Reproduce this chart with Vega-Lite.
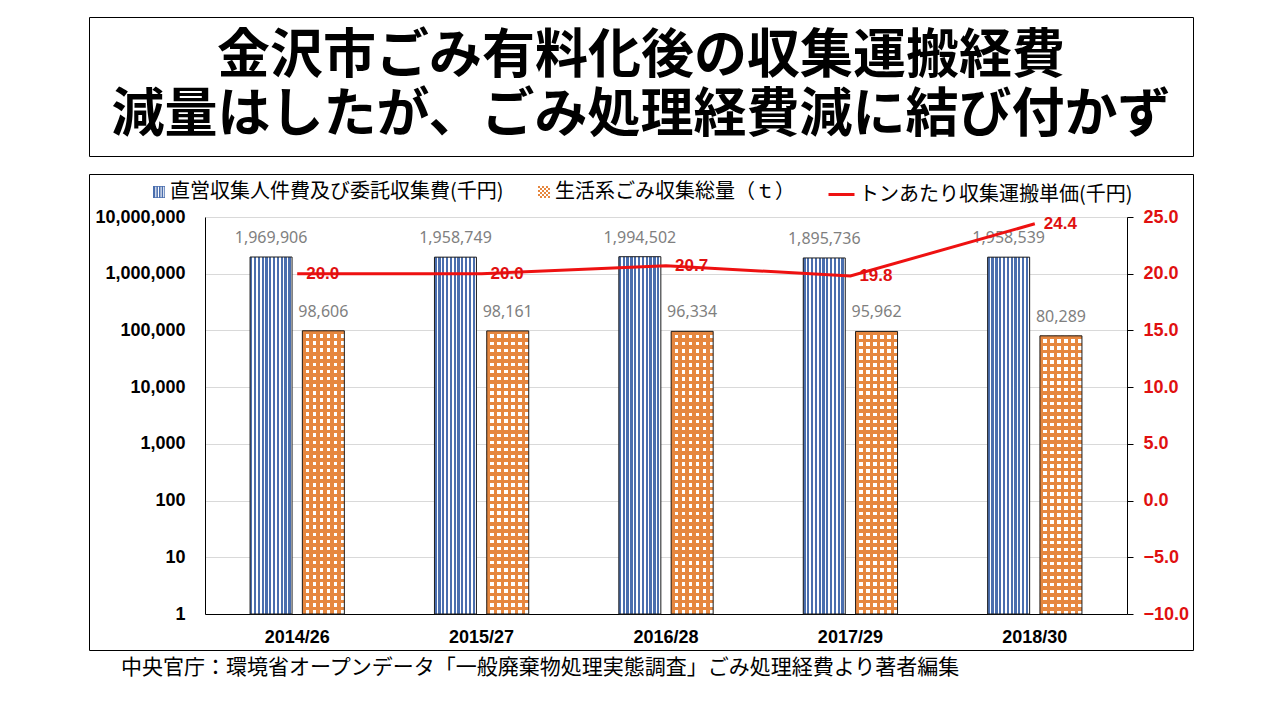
{
  "$schema": "https://vega.github.io/schema/vega-lite/v6.json",
  "background": "white",
  "padding": {"left": 88, "top": 16, "right": 0, "bottom": 0},
  "autosize": {"type": "pad"},
  "datasets": {
    "heading": [
      {"line": 1, "text": "金沢市ごみ有料化後の収集運搬経費"},
      {"line": 2, "text": "減量はしたが、ごみ処理経費減に結び付かず"}
    ],
    "costs": [
      {"year": "2014/26", "series": "直営収集人件費及び委託収集費(千円)", "value": 1969906},
      {"year": "2015/27", "series": "直営収集人件費及び委託収集費(千円)", "value": 1958749},
      {"year": "2016/28", "series": "直営収集人件費及び委託収集費(千円)", "value": 1994502},
      {"year": "2017/29", "series": "直営収集人件費及び委託収集費(千円)", "value": 1895736},
      {"year": "2018/30", "series": "直営収集人件費及び委託収集費(千円)", "value": 1958539},
      {"year": "2014/26", "series": "生活系ごみ収集総量（ｔ）", "value": 98606},
      {"year": "2015/27", "series": "生活系ごみ収集総量（ｔ）", "value": 98161},
      {"year": "2016/28", "series": "生活系ごみ収集総量（ｔ）", "value": 96334},
      {"year": "2017/29", "series": "生活系ごみ収集総量（ｔ）", "value": 95962},
      {"year": "2018/30", "series": "生活系ごみ収集総量（ｔ）", "value": 80289},
      {"year": "2014/26", "series": "トンあたり収集運搬単価(千円)", "value": 20.0},
      {"year": "2015/27", "series": "トンあたり収集運搬単価(千円)", "value": 20.0},
      {"year": "2016/28", "series": "トンあたり収集運搬単価(千円)", "value": 20.7},
      {"year": "2017/29", "series": "トンあたり収集運搬単価(千円)", "value": 19.8},
      {"year": "2018/30", "series": "トンあたり収集運搬単価(千円)", "value": 24.4}
    ]
  },
  "spacing": 16,
  "vconcat": [
    {
      "width": 1104,
      "height": 139,
      "data": {"name": "heading"},
      "mark": {"type": "text", "font": "Noto Sans CJK JP", "fontSize": 53, "fontWeight": "bold", "color": "#000", "baseline": "middle"},
      "encoding": {
        "y": {"field": "line", "type": "ordinal", "axis": null, "scale": {"type": "point", "padding": 0.69}},
        "text": {"field": "text"}
      }
    },
    {
      "width": 1104,
      "height": 476,
      "data": {"name": "costs"},
      "title": {
        "text": "中央官庁：環境省オープンデータ「一般廃棄物処理実態調査」ごみ処理経費より著者編集",
        "orient": "bottom", "anchor": "start", "frame": "group",
        "offset": 7, "dx": 32,
        "font": "Noto Sans CJK JP", "fontSize": 21, "fontWeight": "normal", "color": "#000"
      },
      "encoding": {
        "x": {
          "field": "year", "type": "nominal",
          "scale": {"range": [116, 1038], "paddingInner": 0, "paddingOuter": 0},
          "axis": {
            "orient": "bottom", "offset": -36, "title": null, "labelAngle": 0,
            "ticks": false, "grid": false, "domainColor": "#000", "domainWidth": 1,
            "labelFont": "Liberation Sans", "labelFontSize": 18, "labelFontWeight": "bold",
            "labelColor": "#000", "labelPadding": 14
          }
        }
      },
      "layer": [
        {
          "transform": [{"filter": "datum.series !== 'トンあたり収集運搬単価(千円)'"}],
          "encoding": {
            "xOffset": {
              "field": "series", "type": "nominal",
              "scale": {"domain": ["直営収集人件費及び委託収集費(千円)", "生活系ごみ収集総量（ｔ）"], "paddingInner": 0.197, "paddingOuter": 0.8615}
            },
            "y": {
              "field": "value", "type": "quantitative",
              "scale": {"type": "log", "domain": [1, 10000000], "range": [440, 43], "nice": false},
              "axis": {
                "orient": "left", "offset": -116, "title": null,
                "values": [1, 10, 100, 1000, 10000, 100000, 1000000, 10000000],
                "format": ",", "ticks": false, "grid": true, "gridColor": "#d9d9d9", "gridWidth": 1,
                "domainColor": "#000", "domainWidth": 1,
                "labelFont": "Liberation Sans", "labelFontSize": 18, "labelFontWeight": "bold",
                "labelColor": "#000", "labelPadding": 20
              }
            },
            "y2": {"datum": 1}
          },
          "layer": [
            {
              "transform": [{"filter": "datum.series === '直営収集人件費及び委託収集費(千円)'"}],
              "mark": {"type": "bar", "strokeWidth": 0},
              "encoding": {
                "fill": {
                  "field": "series", "type": "nominal",
                  "scale": {"range": ["#4a6eae"]},
                  "legend": {
                    "orient": "none", "legendX": 60, "legendY": 8,
                    "title": null, "symbolSize": 144,
                    "symbolType": "M-1,-1H1V1H-1ZM-0.88,-0.88V0.88H0.88V-0.88ZM-0.88,-1h0.26v2h-0.26zM-0.44,-1h0.26v2h-0.26zM0,-1h0.26v2h-0.26zM0.44,-1h0.26v2h-0.26z",
                    "symbolStrokeWidth": 0, "symbolStrokeColor": "transparent",
                    "labelOffset": 1, "labelLimit": 600,
                    "labelFont": "Noto Sans CJK JP", "labelFontSize": 20, "labelColor": "#000"
                  }
                }
              }
            },
            {
              "transform": [{"filter": "datum.series === '生活系ごみ収集総量（ｔ）'"}],
              "mark": {"type": "bar", "strokeWidth": 0},
              "encoding": {
                "fill": {
                  "field": "series", "type": "nominal",
                  "scale": {"range": ["#e6873f"]},
                  "legend": {
                    "orient": "none", "legendX": 445, "legendY": 8,
                    "title": null, "symbolSize": 144,
                    "symbolType": "M-1,-1h0.334v0.334h-0.334zM-0.333,-1h0.334v0.334h-0.334zM0.333,-1h0.334v0.334h-0.334zM-0.667,-0.667h0.334v0.334h-0.334zM0,-0.667h0.334v0.334h-0.334zM0.667,-0.667h0.334v0.334h-0.334zM-1,-0.333h0.334v0.334h-0.334zM-0.333,-0.333h0.334v0.334h-0.334zM0.333,-0.333h0.334v0.334h-0.334zM-0.667,0h0.334v0.334h-0.334zM0,0h0.334v0.334h-0.334zM0.667,0h0.334v0.334h-0.334zM-1,0.333h0.334v0.334h-0.334zM-0.333,0.333h0.334v0.334h-0.334zM0.333,0.333h0.334v0.334h-0.334zM-0.667,0.667h0.334v0.334h-0.334zM0,0.667h0.334v0.334h-0.334zM0.667,0.667h0.334v0.334h-0.334z",
                    "symbolStrokeWidth": 0, "symbolStrokeColor": "transparent",
                    "labelOffset": 1, "labelLimit": 600,
                    "labelFont": "Noto Sans CJK JP", "labelFontSize": 20, "labelColor": "#000"
                  }
                }
              }
            },
            {
              "transform": [{"filter": "datum.series === '直営収集人件費及び委託収集費(千円)'"}],
              "mark": {
                "type": "bar", "stroke": "#1f1f1f", "strokeWidth": 1,
                "fill": {
                  "gradient": "linear", "x1": 0, "y1": 0, "x2": 1, "y2": 0,
                  "stops": [
                    {"offset": 0, "color": "#4a6eae"}, {"offset": 0.0545, "color": "#4a6eae"}, {"offset": 0.0545, "color": "#ffffff"}, {"offset": 0.0909, "color": "#ffffff"},
                    {"offset": 0.0909, "color": "#4a6eae"}, {"offset": 0.1455, "color": "#4a6eae"}, {"offset": 0.1455, "color": "#ffffff"}, {"offset": 0.1818, "color": "#ffffff"},
                    {"offset": 0.1818, "color": "#4a6eae"}, {"offset": 0.2364, "color": "#4a6eae"}, {"offset": 0.2364, "color": "#ffffff"}, {"offset": 0.2727, "color": "#ffffff"},
                    {"offset": 0.2727, "color": "#4a6eae"}, {"offset": 0.3273, "color": "#4a6eae"}, {"offset": 0.3273, "color": "#ffffff"}, {"offset": 0.3636, "color": "#ffffff"},
                    {"offset": 0.3636, "color": "#4a6eae"}, {"offset": 0.4182, "color": "#4a6eae"}, {"offset": 0.4182, "color": "#ffffff"}, {"offset": 0.4545, "color": "#ffffff"},
                    {"offset": 0.4545, "color": "#4a6eae"}, {"offset": 0.5091, "color": "#4a6eae"}, {"offset": 0.5091, "color": "#ffffff"}, {"offset": 0.5455, "color": "#ffffff"},
                    {"offset": 0.5455, "color": "#4a6eae"}, {"offset": 0.6, "color": "#4a6eae"}, {"offset": 0.6, "color": "#ffffff"}, {"offset": 0.6364, "color": "#ffffff"},
                    {"offset": 0.6364, "color": "#4a6eae"}, {"offset": 0.6909, "color": "#4a6eae"}, {"offset": 0.6909, "color": "#ffffff"}, {"offset": 0.7273, "color": "#ffffff"},
                    {"offset": 0.7273, "color": "#4a6eae"}, {"offset": 0.7818, "color": "#4a6eae"}, {"offset": 0.7818, "color": "#ffffff"}, {"offset": 0.8182, "color": "#ffffff"},
                    {"offset": 0.8182, "color": "#4a6eae"}, {"offset": 0.8727, "color": "#4a6eae"}, {"offset": 0.8727, "color": "#ffffff"}, {"offset": 0.9091, "color": "#ffffff"},
                    {"offset": 0.9091, "color": "#4a6eae"}, {"offset": 0.9636, "color": "#4a6eae"}, {"offset": 0.9636, "color": "#ffffff"}, {"offset": 1, "color": "#ffffff"}
                  ]
                }
              }
            },
            {
              "transform": [{"filter": "datum.series === '生活系ごみ収集総量（ｔ）'"}],
              "mark": {
                "type": "bar", "strokeWidth": 0,
                "fill": {
                  "gradient": "linear", "x1": 0, "y1": 0, "x2": 1, "y2": 0,
                  "stops": [
                    {"offset": 0, "color": "#e6873f"}, {"offset": 0.0833, "color": "#e6873f"}, {"offset": 0.0833, "color": "#ffffff"}, {"offset": 0.1667, "color": "#ffffff"},
                    {"offset": 0.1667, "color": "#e6873f"}, {"offset": 0.25, "color": "#e6873f"}, {"offset": 0.25, "color": "#ffffff"}, {"offset": 0.3333, "color": "#ffffff"},
                    {"offset": 0.3333, "color": "#e6873f"}, {"offset": 0.4167, "color": "#e6873f"}, {"offset": 0.4167, "color": "#ffffff"}, {"offset": 0.5, "color": "#ffffff"},
                    {"offset": 0.5, "color": "#e6873f"}, {"offset": 0.5833, "color": "#e6873f"}, {"offset": 0.5833, "color": "#ffffff"}, {"offset": 0.6667, "color": "#ffffff"},
                    {"offset": 0.6667, "color": "#e6873f"}, {"offset": 0.75, "color": "#e6873f"}, {"offset": 0.75, "color": "#ffffff"}, {"offset": 0.8333, "color": "#ffffff"},
                    {"offset": 0.8333, "color": "#e6873f"}, {"offset": 0.9167, "color": "#e6873f"}, {"offset": 0.9167, "color": "#ffffff"}, {"offset": 1, "color": "#ffffff"}
                  ]
                }
              }
            },
            {
              "transform": [{"filter": "datum.series === '生活系ごみ収集総量（ｔ）'"}],
              "mark": {
                "type": "bar", "stroke": "#1f1f1f", "strokeWidth": 1,
                "fill": {
                  "gradient": "linear", "x1": 0, "y1": 0, "x2": 0, "y2": 1,
                  "stops": [
                    {"offset": 0, "color": "#e6873f"}, {"offset": 0.0125, "color": "#e6873f"}, {"offset": 0.0125, "color": "rgba(0,0,0,0)"}, {"offset": 0.025, "color": "rgba(0,0,0,0)"},
                    {"offset": 0.025, "color": "#e6873f"}, {"offset": 0.0375, "color": "#e6873f"}, {"offset": 0.0375, "color": "rgba(0,0,0,0)"}, {"offset": 0.05, "color": "rgba(0,0,0,0)"},
                    {"offset": 0.05, "color": "#e6873f"}, {"offset": 0.0625, "color": "#e6873f"}, {"offset": 0.0625, "color": "rgba(0,0,0,0)"}, {"offset": 0.075, "color": "rgba(0,0,0,0)"},
                    {"offset": 0.075, "color": "#e6873f"}, {"offset": 0.0875, "color": "#e6873f"}, {"offset": 0.0875, "color": "rgba(0,0,0,0)"}, {"offset": 0.1, "color": "rgba(0,0,0,0)"},
                    {"offset": 0.1, "color": "#e6873f"}, {"offset": 0.1125, "color": "#e6873f"}, {"offset": 0.1125, "color": "rgba(0,0,0,0)"}, {"offset": 0.125, "color": "rgba(0,0,0,0)"},
                    {"offset": 0.125, "color": "#e6873f"}, {"offset": 0.1375, "color": "#e6873f"}, {"offset": 0.1375, "color": "rgba(0,0,0,0)"}, {"offset": 0.15, "color": "rgba(0,0,0,0)"},
                    {"offset": 0.15, "color": "#e6873f"}, {"offset": 0.1625, "color": "#e6873f"}, {"offset": 0.1625, "color": "rgba(0,0,0,0)"}, {"offset": 0.175, "color": "rgba(0,0,0,0)"},
                    {"offset": 0.175, "color": "#e6873f"}, {"offset": 0.1875, "color": "#e6873f"}, {"offset": 0.1875, "color": "rgba(0,0,0,0)"}, {"offset": 0.2, "color": "rgba(0,0,0,0)"},
                    {"offset": 0.2, "color": "#e6873f"}, {"offset": 0.2125, "color": "#e6873f"}, {"offset": 0.2125, "color": "rgba(0,0,0,0)"}, {"offset": 0.225, "color": "rgba(0,0,0,0)"},
                    {"offset": 0.225, "color": "#e6873f"}, {"offset": 0.2375, "color": "#e6873f"}, {"offset": 0.2375, "color": "rgba(0,0,0,0)"}, {"offset": 0.25, "color": "rgba(0,0,0,0)"},
                    {"offset": 0.25, "color": "#e6873f"}, {"offset": 0.2625, "color": "#e6873f"}, {"offset": 0.2625, "color": "rgba(0,0,0,0)"}, {"offset": 0.275, "color": "rgba(0,0,0,0)"},
                    {"offset": 0.275, "color": "#e6873f"}, {"offset": 0.2875, "color": "#e6873f"}, {"offset": 0.2875, "color": "rgba(0,0,0,0)"}, {"offset": 0.3, "color": "rgba(0,0,0,0)"},
                    {"offset": 0.3, "color": "#e6873f"}, {"offset": 0.3125, "color": "#e6873f"}, {"offset": 0.3125, "color": "rgba(0,0,0,0)"}, {"offset": 0.325, "color": "rgba(0,0,0,0)"},
                    {"offset": 0.325, "color": "#e6873f"}, {"offset": 0.3375, "color": "#e6873f"}, {"offset": 0.3375, "color": "rgba(0,0,0,0)"}, {"offset": 0.35, "color": "rgba(0,0,0,0)"},
                    {"offset": 0.35, "color": "#e6873f"}, {"offset": 0.3625, "color": "#e6873f"}, {"offset": 0.3625, "color": "rgba(0,0,0,0)"}, {"offset": 0.375, "color": "rgba(0,0,0,0)"},
                    {"offset": 0.375, "color": "#e6873f"}, {"offset": 0.3875, "color": "#e6873f"}, {"offset": 0.3875, "color": "rgba(0,0,0,0)"}, {"offset": 0.4, "color": "rgba(0,0,0,0)"},
                    {"offset": 0.4, "color": "#e6873f"}, {"offset": 0.4125, "color": "#e6873f"}, {"offset": 0.4125, "color": "rgba(0,0,0,0)"}, {"offset": 0.425, "color": "rgba(0,0,0,0)"},
                    {"offset": 0.425, "color": "#e6873f"}, {"offset": 0.4375, "color": "#e6873f"}, {"offset": 0.4375, "color": "rgba(0,0,0,0)"}, {"offset": 0.45, "color": "rgba(0,0,0,0)"},
                    {"offset": 0.45, "color": "#e6873f"}, {"offset": 0.4625, "color": "#e6873f"}, {"offset": 0.4625, "color": "rgba(0,0,0,0)"}, {"offset": 0.475, "color": "rgba(0,0,0,0)"},
                    {"offset": 0.475, "color": "#e6873f"}, {"offset": 0.4875, "color": "#e6873f"}, {"offset": 0.4875, "color": "rgba(0,0,0,0)"}, {"offset": 0.5, "color": "rgba(0,0,0,0)"},
                    {"offset": 0.5, "color": "#e6873f"}, {"offset": 0.5125, "color": "#e6873f"}, {"offset": 0.5125, "color": "rgba(0,0,0,0)"}, {"offset": 0.525, "color": "rgba(0,0,0,0)"},
                    {"offset": 0.525, "color": "#e6873f"}, {"offset": 0.5375, "color": "#e6873f"}, {"offset": 0.5375, "color": "rgba(0,0,0,0)"}, {"offset": 0.55, "color": "rgba(0,0,0,0)"},
                    {"offset": 0.55, "color": "#e6873f"}, {"offset": 0.5625, "color": "#e6873f"}, {"offset": 0.5625, "color": "rgba(0,0,0,0)"}, {"offset": 0.575, "color": "rgba(0,0,0,0)"},
                    {"offset": 0.575, "color": "#e6873f"}, {"offset": 0.5875, "color": "#e6873f"}, {"offset": 0.5875, "color": "rgba(0,0,0,0)"}, {"offset": 0.6, "color": "rgba(0,0,0,0)"},
                    {"offset": 0.6, "color": "#e6873f"}, {"offset": 0.6125, "color": "#e6873f"}, {"offset": 0.6125, "color": "rgba(0,0,0,0)"}, {"offset": 0.625, "color": "rgba(0,0,0,0)"},
                    {"offset": 0.625, "color": "#e6873f"}, {"offset": 0.6375, "color": "#e6873f"}, {"offset": 0.6375, "color": "rgba(0,0,0,0)"}, {"offset": 0.65, "color": "rgba(0,0,0,0)"},
                    {"offset": 0.65, "color": "#e6873f"}, {"offset": 0.6625, "color": "#e6873f"}, {"offset": 0.6625, "color": "rgba(0,0,0,0)"}, {"offset": 0.675, "color": "rgba(0,0,0,0)"},
                    {"offset": 0.675, "color": "#e6873f"}, {"offset": 0.6875, "color": "#e6873f"}, {"offset": 0.6875, "color": "rgba(0,0,0,0)"}, {"offset": 0.7, "color": "rgba(0,0,0,0)"},
                    {"offset": 0.7, "color": "#e6873f"}, {"offset": 0.7125, "color": "#e6873f"}, {"offset": 0.7125, "color": "rgba(0,0,0,0)"}, {"offset": 0.725, "color": "rgba(0,0,0,0)"},
                    {"offset": 0.725, "color": "#e6873f"}, {"offset": 0.7375, "color": "#e6873f"}, {"offset": 0.7375, "color": "rgba(0,0,0,0)"}, {"offset": 0.75, "color": "rgba(0,0,0,0)"},
                    {"offset": 0.75, "color": "#e6873f"}, {"offset": 0.7625, "color": "#e6873f"}, {"offset": 0.7625, "color": "rgba(0,0,0,0)"}, {"offset": 0.775, "color": "rgba(0,0,0,0)"},
                    {"offset": 0.775, "color": "#e6873f"}, {"offset": 0.7875, "color": "#e6873f"}, {"offset": 0.7875, "color": "rgba(0,0,0,0)"}, {"offset": 0.8, "color": "rgba(0,0,0,0)"},
                    {"offset": 0.8, "color": "#e6873f"}, {"offset": 0.8125, "color": "#e6873f"}, {"offset": 0.8125, "color": "rgba(0,0,0,0)"}, {"offset": 0.825, "color": "rgba(0,0,0,0)"},
                    {"offset": 0.825, "color": "#e6873f"}, {"offset": 0.8375, "color": "#e6873f"}, {"offset": 0.8375, "color": "rgba(0,0,0,0)"}, {"offset": 0.85, "color": "rgba(0,0,0,0)"},
                    {"offset": 0.85, "color": "#e6873f"}, {"offset": 0.8625, "color": "#e6873f"}, {"offset": 0.8625, "color": "rgba(0,0,0,0)"}, {"offset": 0.875, "color": "rgba(0,0,0,0)"},
                    {"offset": 0.875, "color": "#e6873f"}, {"offset": 0.8875, "color": "#e6873f"}, {"offset": 0.8875, "color": "rgba(0,0,0,0)"}, {"offset": 0.9, "color": "rgba(0,0,0,0)"},
                    {"offset": 0.9, "color": "#e6873f"}, {"offset": 0.9125, "color": "#e6873f"}, {"offset": 0.9125, "color": "rgba(0,0,0,0)"}, {"offset": 0.925, "color": "rgba(0,0,0,0)"},
                    {"offset": 0.925, "color": "#e6873f"}, {"offset": 0.9375, "color": "#e6873f"}, {"offset": 0.9375, "color": "rgba(0,0,0,0)"}, {"offset": 0.95, "color": "rgba(0,0,0,0)"},
                    {"offset": 0.95, "color": "#e6873f"}, {"offset": 0.9625, "color": "#e6873f"}, {"offset": 0.9625, "color": "rgba(0,0,0,0)"}, {"offset": 0.975, "color": "rgba(0,0,0,0)"},
                    {"offset": 0.975, "color": "#e6873f"}, {"offset": 0.9875, "color": "#e6873f"}, {"offset": 0.9875, "color": "rgba(0,0,0,0)"}, {"offset": 1, "color": "rgba(0,0,0,0)"}
                  ]
                }
              }
            },
            {
              "mark": {"type": "text", "baseline": "bottom", "dy": -11, "color": "#7f7f7f", "font": "Liberation Sans Narrow, Noto Sans", "fontSize": 16},
              "encoding": {
                "text": {"field": "value", "type": "quantitative", "format": ","}
              }
            }
          ],
          "resolve": {"scale": {"fill": "independent"}}
        },
        {
          "transform": [{"filter": "datum.series === 'トンあたり収集運搬単価(千円)'"}],
          "encoding": {
            "y": {
              "field": "value", "type": "quantitative",
              "scale": {"domain": [-10, 25], "range": [440, 43], "nice": false, "zero": false},
              "axis": {
                "orient": "right", "offset": -66, "title": null,
                "values": [-10, -5, 0, 5, 10, 15, 20, 25],
                "format": ".1f", "grid": false,
                "ticks": true, "tickColor": "#000", "tickSize": 6, "tickWidth": 1,
                "domainColor": "#000", "domainWidth": 1,
                "labelFont": "Liberation Sans", "labelFontSize": 18, "labelFontWeight": "bold",
                "labelColor": "#e01010", "labelPadding": 10
              }
            }
          },
          "layer": [
            {
              "mark": {"type": "line", "strokeWidth": 3},
              "encoding": {
                "color": {
                  "field": "series", "type": "nominal",
                  "scale": {"range": ["#ee1111"]},
                  "legend": {
                    "orient": "none", "legendX": 738, "legendY": 163,
                    "title": null,
                    "symbolSize": 676, "symbolType": "stroke", "symbolStrokeWidth": 3,
                    "labelOffset": 3, "labelLimit": 600,
                    "labelFont": "Noto Sans CJK JP", "labelFontSize": 20, "labelColor": "#000"
                  }
                }
              }
            },
            {
              "mark": {"type": "text", "align": "left", "baseline": "middle", "dx": 9, "color": "#e01010", "font": "Liberation Sans", "fontSize": 17, "fontWeight": "bold"},
              "encoding": {
                "text": {"field": "value", "type": "quantitative", "format": ".1f"}
              }
            }
          ]
        }
      ],
      "resolve": {"scale": {"y": "independent"}, "axis": {"y": "independent"}}
    }
  ],
  "config": {
    "view": {"stroke": "#000", "strokeWidth": 1},
    "font": "Noto Sans CJK JP"
  }
}
